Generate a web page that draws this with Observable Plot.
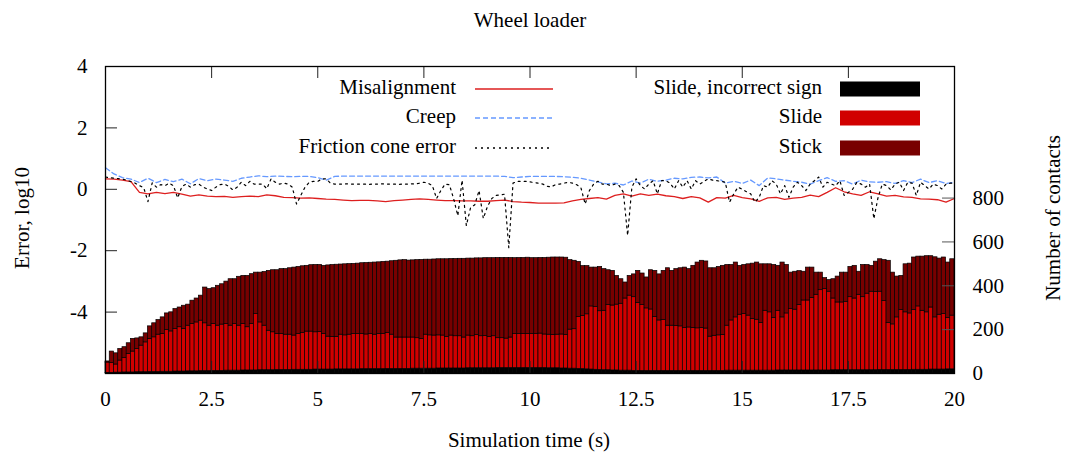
<!DOCTYPE html>
<html>
<head>
<meta charset="utf-8">
<script src="https://cdn.jsdelivr.net/npm/d3@7"></script>
<script src="https://cdn.jsdelivr.net/npm/@observablehq/plot@0.6"></script>
<style>
  html, body { margin: 0; padding: 0; background: #fff; }
  #chart svg { display: block; }
</style>
</head>
<body>
<div id="chart"></div>
<script>
// ---------- data ----------
const chartTitle = "Wheel loader";
const xLabel = "Simulation time (s)";
const yLabelLeft = "Error, log10";
const yLabelRight = "Number of contacts";
const xTicks = [0, 2.5, 5, 7.5, 10, 12.5, 15, 17.5, 20];
const errorTicks = [-4, -2, 0, 2, 4];
const contactTicks = [0, 200, 400, 600, 800];

const lineNames = ["Misalignment", "Creep", "Friction cone error"];
const barNames = ["Slide, incorrect sign", "Slide", "Stick"];

// Error lines (log10). Misalignment and creep every 0.2 s, friction cone error every 0.1 s.
const misalignment = [
 0.34,0.33,0.30,0.25,-0.10,-0.15,-0.10,-0.14,-0.10,-0.16,
 -0.22,-0.18,-0.22,-0.24,-0.23,-0.26,-0.24,-0.22,-0.24,-0.18,
 -0.21,-0.26,-0.27,-0.29,-0.28,-0.30,-0.32,-0.33,-0.35,-0.37,
 -0.36,-0.36,-0.38,-0.40,-0.37,-0.35,-0.33,-0.31,-0.33,-0.35,
 -0.37,-0.37,-0.38,-0.38,-0.39,-0.39,-0.37,-0.35,-0.40,-0.42,
 -0.43,-0.45,-0.45,-0.45,-0.44,-0.38,-0.33,-0.30,-0.27,-0.32,
 -0.20,-0.15,-0.22,-0.15,-0.20,-0.16,-0.21,-0.24,-0.30,-0.24,
 -0.28,-0.42,-0.27,-0.29,-0.20,-0.27,-0.31,-0.39,-0.28,-0.26,
 -0.33,-0.29,-0.26,-0.19,-0.24,-0.10,0.05,-0.08,-0.15,-0.20,
 -0.08,-0.15,-0.22,-0.20,-0.25,-0.26,-0.31,-0.32,-0.34,-0.42,
 -0.30];
const creep = [
 0.70,0.50,0.38,0.33,0.22,0.36,0.22,0.32,0.25,0.33,
 0.18,0.35,0.28,0.33,0.30,0.26,0.36,0.40,0.44,0.41,
 0.43,0.42,0.41,0.42,0.42,0.38,0.30,0.42,0.43,0.43,
 0.43,0.43,0.43,0.43,0.43,0.43,0.43,0.43,0.43,0.43,
 0.43,0.43,0.43,0.43,0.43,0.43,0.43,0.42,0.38,0.40,
 0.42,0.42,0.42,0.42,0.41,0.39,0.36,0.30,0.24,0.18,
 0.20,0.14,0.27,0.20,0.33,0.26,0.30,0.36,0.34,0.39,
 0.40,0.37,0.40,0.20,0.26,0.19,0.30,0.12,0.37,0.34,
 0.30,0.26,0.23,0.17,0.28,0.38,0.26,0.28,0.17,0.30,
 0.24,0.23,0.25,0.19,0.28,0.22,0.33,0.22,0.28,0.19,
 0.23];
const frictionCone = [
 0.40,0.38,0.36,0.35,0.33,0.30,0.25,0.20,0.12,0.05,
 -0.40,0.21,0.07,0.15,0.12,0.20,0.12,-0.28,0.09,0.17,
 0.07,0.15,0.17,0.07,0.01,-0.04,0.07,0.15,0.17,0.10,
 -0.02,0.07,0.23,0.12,0.26,0.17,0.17,0.17,0.02,0.34,
 0.23,0.17,0.20,0.17,0.07,-0.48,-0.20,0.07,0.23,0.26,
 0.26,0.34,0.34,0.20,0.17,0.17,0.17,0.18,0.17,0.17,
 0.17,0.17,0.16,0.17,0.17,0.18,0.17,0.17,0.17,0.16,
 0.17,0.17,0.18,0.17,0.20,0.23,0.20,0.12,-0.30,-0.04,
 0.17,0.15,-0.30,-0.86,0.30,-1.18,-0.60,-0.50,-0.04,-0.95,
 -0.55,-0.30,-0.20,-0.18,-0.16,-1.90,0.20,0.26,0.26,0.26,
 0.24,0.22,0.20,0.17,0.10,0.08,0.15,0.17,0.20,0.23,
 0.20,0.15,0.05,-0.48,-0.04,0.17,0.26,0.17,0.17,0.12,
 0.17,0.12,-0.10,-1.50,0.07,0.34,0.12,0.01,0.17,0.28,
 -0.15,0.28,0.28,0.20,0.01,0.28,0.07,0.28,0.01,0.28,
 0.17,0.26,0.34,0.30,0.28,0.26,0.23,-0.42,-0.15,0.07,
 0.00,-0.08,-0.15,-0.42,-0.26,0.12,0.07,0.28,0.17,-0.15,
 0.12,-0.26,0.07,0.23,0.12,-0.04,0.17,0.28,0.40,0.07,
 0.23,0.17,0.12,0.28,-0.20,-0.10,0.00,0.23,0.17,0.07,
 0.17,-0.96,-0.26,0.17,0.12,-0.02,0.17,0.23,-0.04,0.23,
 0.20,-0.20,0.23,0.12,0.01,0.17,0.12,0.01,0.17,0.20,
 0.20];

// Contacts per 0.1 s bar (200 bars)
const totalContacts = [
 55,100,92,112,120,138,158,160,165,183,
 215,229,244,256,274,279,294,301,309,314,
 332,342,355,392,385,389,400,407,419,430,
 430,441,445,445,453,460,460,463,468,471,
 471,476,476,480,483,486,489,491,494,495,
 495,491,493,495,496,497,498,499,500,501,
 503,504,505,506,507,509,510,512,514,516,
 517,515,516,517,518,519,519,520,521,521,
 521,522,522,523,523,524,524,525,525,526,
 526,526,527,527,527,527,526,527,527,528,
 526,526,527,527,528,529,529,529,528,517,
 514,509,490,490,483,483,486,476,471,468,
 445,430,415,445,452,468,456,438,471,468,
 452,468,480,468,476,480,483,476,491,506,
 514,511,480,480,486,491,495,495,506,491,
 495,498,501,506,498,498,498,495,491,506,
 495,460,464,467,464,483,483,460,460,435,
 426,430,442,460,460,486,491,464,495,495,
 491,510,521,517,514,460,442,445,498,501,
 529,533,533,535,535,530,524,529,506,521];
// all sliding contacts (correct + incorrect sign)
const slidingContacts = [
 50,48,41,59,70,89,100,112,127,142,
 158,165,177,180,198,192,203,211,203,218,
 226,233,241,229,218,226,218,223,226,218,
 226,218,226,211,226,271,233,218,195,188,
 180,180,177,177,173,180,184,191,191,188,
 189,180,168,167,167,177,174,177,180,180,
 180,178,180,177,180,180,184,177,164,164,
 164,164,164,161,157,177,174,173,174,173,
 167,173,170,170,164,173,170,175,170,171,
 167,170,161,161,159,164,180,180,180,180,
 180,181,182,178,177,176,177,178,175,200,
 202,258,262,270,306,303,284,286,312,310,
 314,318,342,355,348,322,312,297,292,258,
 242,244,218,218,217,215,207,210,208,206,
 208,205,168,172,174,176,218,242,256,268,
 271,264,249,245,230,286,279,253,286,256,
 274,294,291,312,333,333,345,359,380,385,
 373,342,324,324,327,348,342,359,348,364,
 373,371,373,330,230,224,256,289,279,274,
 289,306,286,279,301,256,268,271,253,264];
const incorrectSign = [
 3,3,4,4,5,5,5,6,6,6,
 7,7,7,8,8,8,9,9,9,10,
 10,10,11,11,11,12,12,12,13,13,
 13,13,14,14,14,14,15,15,15,15,
 16,16,16,16,17,17,17,17,17,18,
 18,18,18,18,19,19,19,19,19,19,
 20,20,20,20,20,20,21,21,21,21,
 21,21,22,22,22,22,22,22,23,23,
 23,23,23,23,23,24,24,24,24,24,
 24,24,25,25,25,25,25,25,25,25,
 25,25,25,25,24,24,24,23,23,22,
 22,21,20,19,18,17,16,15,15,14,
 14,13,13,13,12,12,12,12,12,12,
 12,12,12,12,12,12,12,12,12,12,
 12,12,12,12,12,12,13,13,13,13,
 13,13,13,13,13,13,13,13,14,14,
 14,14,14,14,14,14,14,14,14,14,
 14,15,15,15,15,15,15,15,15,15,
 15,15,16,16,16,16,16,16,16,16,
 17,17,17,17,18,18,18,18,19,19];

// ---------- styling ----------
const colors = {
  misalignment: "#dd1f1f",
  creep: "#6699ff",
  friction: "#000000",
  incorrect: "#000000",
  slide: "#d10000",
  stick: "#780000"
};
const W = 1066, H = 457;
const mL = 105, mR = 112, mT = 66, mB = 84;
const plotW = W - mL - mR, plotH = H - mT - mB;
const font = "'Liberation Serif', 'Times New Roman', serif";
const fricDash = "2,4";

// secondary axis: contacts mapped onto the error scale [-6,4] <-> [0,1400]
const toLeft = c => -6 + c / 140;
const toCount = v => Math.round((v + 6) * 140);

// ---------- build tables ----------
const barRows = [];
totalContacts.forEach((tot, i) => {
  const t1 = i * 0.1, t2 = (i + 1) * 0.1;
  const inc = incorrectSign[i], sl = slidingContacts[i];
  barRows.push({t1, t2, a: 0, b: inc, s: barNames[0]});
  barRows.push({t1, t2, a: inc, b: sl, s: barNames[1]});
  barRows.push({t1, t2, a: sl, b: tot, s: barNames[2]});
});
const misRows = misalignment.map((v, i) => ({t: i * 0.2, v}));
const creepRows = creep.map((v, i) => ({t: i * 0.2, v}));
const fricRows = frictionCone.map((v, i) => ({t: i * 0.1, v}));
const barColor = {[barNames[0]]: colors.incorrect, [barNames[1]]: colors.slide, [barNames[2]]: colors.stick};

const chart = Plot.plot({
  width: W, height: H,
  marginLeft: mL, marginRight: mR, marginTop: mT, marginBottom: mB,
  style: {fontFamily: font, fontSize: "21px", background: "#fff", color: "#000", overflow: "visible"},
  x: {domain: [0, 20]},
  y: {domain: [-6, 4]},
  marks: [
    Plot.rect(barRows, {
      x1: "t1", x2: "t2",
      y1: d => toLeft(d.a), y2: d => toLeft(d.b),
      fill: d => barColor[d.s],
      stroke: "#000", strokeWidth: 0.7
    }),
    Plot.line(misRows, {x: "t", y: "v", stroke: colors.misalignment, strokeWidth: 1.3}),
    Plot.line(creepRows, {x: "t", y: "v", stroke: colors.creep, strokeWidth: 1.3, strokeDasharray: "5,3"}),
    Plot.line(fricRows, {x: "t", y: "v", stroke: colors.friction, strokeWidth: 1.2, strokeDasharray: fricDash}),
    // inward ticks
    Plot.ruleX(xTicks, {x: d => d, insetTop: plotH - 12, stroke: "#222", strokeWidth: 1}),
    Plot.ruleX(xTicks, {x: d => d, insetBottom: plotH - 12, stroke: "#222", strokeWidth: 1}),
    Plot.ruleY(errorTicks, {y: d => d, insetRight: plotW - 12, stroke: "#222", strokeWidth: 1}),
    Plot.ruleY(contactTicks.map(toLeft), {y: d => d, insetLeft: plotW - 12, stroke: "#555", strokeWidth: 1}),
    Plot.frame({stroke: "#000", strokeWidth: 1.3}),
    Plot.axisX({ticks: xTicks, tickSize: 0, tickPadding: 18, label: null, tickFormat: d => String(d)}),
    Plot.axisY({anchor: "left", ticks: errorTicks, tickSize: 0, tickPadding: 18, label: null, tickFormat: d => String(d)}),
    Plot.axisY({anchor: "right", ticks: contactTicks.map(toLeft), tickSize: 0, tickPadding: 18, label: null, tickFormat: d => String(toCount(d))})
  ]
});
document.getElementById("chart").appendChild(chart);

// ---------- titles, axis labels and legend ----------
const svg = d3.select(chart);
const g = svg.append("g").attr("font-family", font).attr("font-size", 21).attr("fill", "#000");
g.append("text").attr("x", 530).attr("y", 27).attr("text-anchor", "middle").text(chartTitle);
g.append("text").attr("x", 529).attr("y", 447).attr("text-anchor", "middle").text(xLabel);
g.append("text").attr("transform", "translate(22,218) rotate(-90)").attr("text-anchor", "middle").attr("dy", "0.35em").text(yLabelLeft);
g.append("text").attr("transform", "translate(1053,218) rotate(-90)").attr("text-anchor", "middle").attr("dy", "0.35em").text(yLabelRight);

const rowY = [89, 118, 148];
const lineStyles = [
  {stroke: colors.misalignment, dash: null},
  {stroke: colors.creep, dash: "5,3"},
  {stroke: colors.friction, dash: fricDash}
];
lineNames.forEach((name, i) => {
  g.append("text").attr("x", 456).attr("y", rowY[i] + 5).attr("text-anchor", "end").text(name);
  const ln = g.append("line").attr("x1", 475).attr("x2", 553).attr("y1", rowY[i]).attr("y2", rowY[i])
    .attr("stroke", lineStyles[i].stroke).attr("stroke-width", 1.3);
  if (lineStyles[i].dash) ln.attr("stroke-dasharray", lineStyles[i].dash);
});
const boxColors = [colors.incorrect, colors.slide, colors.stick];
barNames.forEach((name, i) => {
  g.append("text").attr("x", 822).attr("y", rowY[i] + 5).attr("text-anchor", "end").text(name);
  g.append("rect").attr("x", 840).attr("y", rowY[i] - 7.5).attr("width", 80).attr("height", 15)
    .attr("fill", boxColors[i]);
});
</script>
</body>
</html>
